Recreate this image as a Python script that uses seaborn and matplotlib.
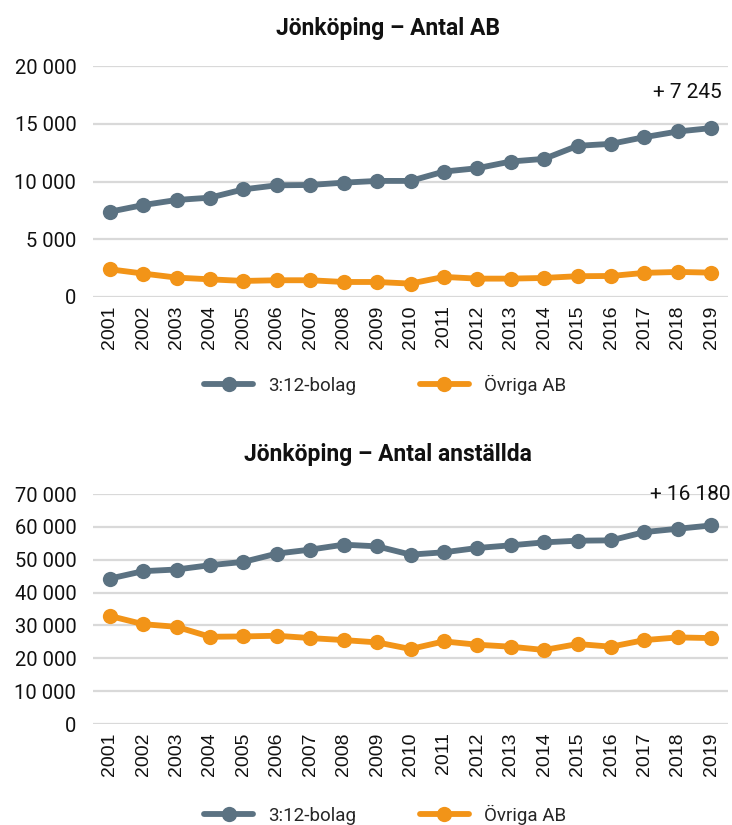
import numpy as np
import pandas as pd
import matplotlib
matplotlib.use("Agg")
import matplotlib.pyplot as plt
import seaborn as sns

years = list(range(2001, 2020))
ab_312 = [7380, 7960, 8400, 8600, 9320, 9670, 9700, 9900, 10050, 10050,
          10860, 11150, 11730, 11960, 13090, 13260, 13840, 14330, 14625]
ab_ovriga = [2400, 2030, 1680, 1530, 1390, 1450, 1450, 1300, 1300, 1160,
             1740, 1590, 1590, 1650, 1800, 1820, 2090, 2170, 2110]
emp_312 = [44250, 46510, 47020, 48330, 49340, 51860, 53070, 54580, 54070, 51550,
           52260, 53570, 54380, 55280, 55790, 55890, 58410, 59420, 60430]
emp_ovriga = [32900, 30380, 29580, 26550, 26650, 26860, 26150, 25540, 24840, 22820,
              25140, 24130, 23530, 22520, 24340, 23530, 25540, 26350, 26150]
series_names = ["3:12-bolag", "Övriga AB"]
colors = ["#5B7282", "#F29418"]
titles = ["Jönköping – Antal AB", "Jönköping – Antal anställda"]
annotations = ["+ 7 245", "+ 16 180"]

sns.set_theme(style="white")
plt.rcParams['font.family'] = ['Roboto', 'DejaVu Sans']

def fmt(v):
    return f"{int(v):,}".replace(",", " ")

fig = plt.figure(figsize=(7.32, 8.25), dpi=100)
W, H = 732, 825
specs = [
    dict(data=(ab_312, ab_ovriga), ymax=20000, step=5000, top=66, bottom=297,
         title_y=28, ann_y=93, ann_x=722, leg_y=385),
    dict(data=(emp_312, emp_ovriga), ymax=70000, step=10000, top=494, bottom=724,
         title_y=455, ann_y=494, ann_x=731, leg_y=815),
]
left, right = 93, 728
for i, sp in enumerate(specs):
    ax = fig.add_axes([left / W, 1 - sp["bottom"] / H, (right - left) / W,
                       (sp["bottom"] - sp["top"]) / H])
    df = pd.DataFrame({
        "year": years * 2,
        "value": list(sp["data"][0]) + list(sp["data"][1]),
        "series": [series_names[0]] * len(years) + [series_names[1]] * len(years),
    })
    sns.lineplot(data=df, x="year", y="value", hue="series", palette=colors,
                 marker="o", markersize=11, markeredgewidth=0, linewidth=4.2,
                 ax=ax, legend=False)
    ax.set_xlim(2000.5, 2019.5)
    ax.set_ylim(0, sp["ymax"])
    yt = np.arange(0, sp["ymax"] + 1, sp["step"])
    ax.set_yticks(yt)
    ax.set_yticklabels([fmt(v) for v in yt], fontsize=14.5, color="#111111")
    ax.set_xticks(years)
    ax.set_xticklabels([str(y) for y in years], rotation=90, fontsize=14,
                       family=["Liberation Sans"], color="#111111")
    ax.tick_params(axis="y", length=0, pad=12)
    ax.tick_params(axis="x", length=0, pad=6)
    ax.grid(axis="y", color="#D9D9D9", linewidth=1.6)
    ax.set_axisbelow(True)
    for s in ax.spines.values():
        s.set_visible(False)
    ax.set_xlabel("")
    ax.set_ylabel("")
    fig.text(388 / W, 1 - sp["title_y"] / H, titles[i], ha="center", va="center",
             fontsize=16.5, fontweight="bold", color="#111111")
    fig.text(sp["ann_x"] / W, 1 - sp["ann_y"] / H, annotations[i], ha="right",
             va="center", fontsize=15, color="#111111")
    handles = [plt.Line2D([], [], color=c, marker="o", markersize=11,
                          markeredgewidth=0, linewidth=4.2) for c in colors]
    fig.legend(handles, series_names, loc="center", ncol=2, frameon=False,
               bbox_to_anchor=(385 / W, 1 - sp["leg_y"] / H), fontsize=13.5,
               handlelength=2.6, columnspacing=3.4, handletextpad=0.8)

fig.savefig("out.png", dpi=100)
